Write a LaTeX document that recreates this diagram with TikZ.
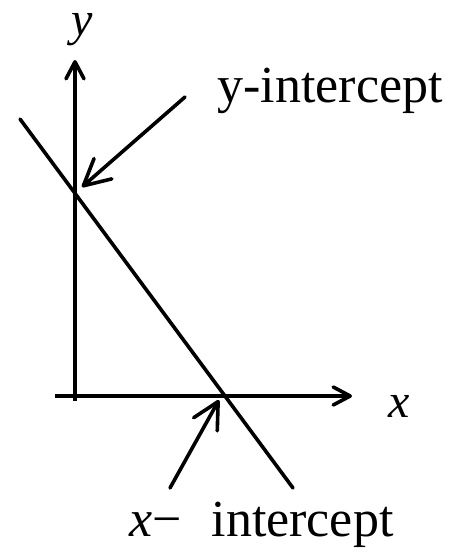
\documentclass[tikz,border=0pt]{standalone}
\usepackage{fontspec}
\setmainfont{Liberation Serif}
\usetikzlibrary{arrows.meta}
\begin{document}
\begin{tikzpicture}[x=1pt,y=-1pt,
  ln/.style={line width=3.6pt},
  axarrow/.style={ln,-{Straight Barb[length=17pt,width=18pt,round]}},
  callout/.style={ln,-{Straight Barb[length=26pt,width=27pt,round]}},
  big/.style={font=\fontsize{52}{60}\selectfont, inner sep=0pt},
  axlab/.style={font=\fontsize{48}{56}\selectfont\itshape, inner sep=0pt,
    text height=23pt, text depth=11pt}]
\useasboundingbox (0,0) rectangle (473,558);
% axes
\coordinate (ybot) at (75,401);
\coordinate (ytop) at (75,60);
\coordinate (xl) at (55,396);
\coordinate (xr) at (352,396);
\draw[axarrow] (ybot) -- (ytop);
\draw[axarrow] (xl) -- (xr);
\node[axlab, anchor=base] (ylab) at (82,35) {y};
\node[axlab, anchor=base] (xlab) at (399,417) {x};
% line
\coordinate (la) at (20,119);
\coordinate (lb) at (293,488);
\draw[ln, line cap=round] (la) -- (lb);
% callouts
\node[big, anchor=base] (ytext) at (330,102) {y-intercept};
\node[big, anchor=base west] (xtext) at (129,536) {\textit{x}−\hspace{30pt}intercept};
\coordinate (yc0) at (185,97);
\coordinate (yc1) at (82,187);
\coordinate (xc0) at (170,488);
\coordinate (xc1) at (219,400);
\draw[callout, line cap=round] (yc0) -- (yc1);
\draw[callout, line cap=round] (xc0) -- (xc1);
\end{tikzpicture}
\end{document}
